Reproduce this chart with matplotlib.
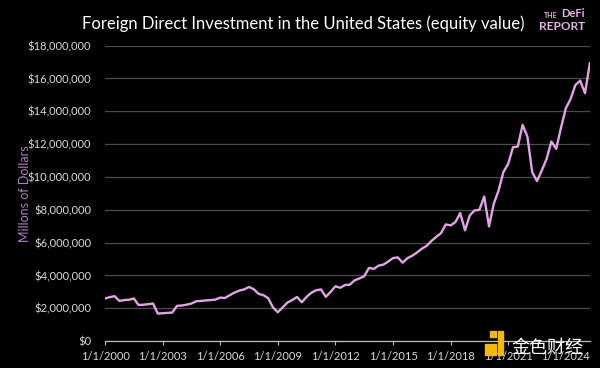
import numpy as np
import matplotlib
matplotlib.use("Agg")
import matplotlib.pyplot as plt
from matplotlib.patches import Rectangle
from matplotlib.ticker import FuncFormatter

# Quarterly FDI equity value (millions of dollars, in units of 1e6), 2000Q1 - 2025Q2
start_year = 2000
fdi_values = [
    2.60, 2.68, 2.74, 2.45, 2.50, 2.52, 2.60, 2.20, 2.22, 2.25,
    2.29, 1.68, 1.70, 1.72, 1.74, 2.15, 2.17, 2.22, 2.29, 2.43,
    2.45, 2.48, 2.50, 2.53, 2.65, 2.63, 2.80, 2.96, 3.08, 3.15,
    3.30, 3.16, 2.88, 2.80, 2.62, 2.05, 1.76, 2.05, 2.35, 2.50,
    2.69, 2.37, 2.70, 2.95, 3.10, 3.15, 2.70, 3.00, 3.34, 3.25,
    3.42, 3.44, 3.70, 3.82, 3.95, 4.46, 4.40, 4.60, 4.66, 4.85,
    5.06, 5.10, 4.78, 5.05, 5.20, 5.40, 5.63, 5.80, 6.10, 6.35,
    6.58, 7.11, 7.05, 7.25, 7.80, 6.75, 7.66, 7.96, 8.00, 8.81,
    6.99, 8.37, 9.18, 10.30, 10.80, 11.81, 11.85, 13.17, 12.46, 10.29,
    9.75, 10.40, 11.10, 12.16, 11.71, 13.00, 14.18, 14.75, 15.60, 15.87,
    15.10, 16.92,
]
tick_years = [2000, 2003, 2006, 2009, 2012, 2015, 2018, 2021, 2024]
tick_labels = ["1/1/%d" % y for y in tick_years]

x = start_year + np.arange(len(fdi_values)) / 4.0
y = np.array(fdi_values) * 1e6

plt.rcParams["font.family"] = ["Lato", "DejaVu Sans"]

fig = plt.figure(figsize=(6, 3.68), dpi=100, facecolor="black")
ax = fig.add_axes([0.175, 0.073, 0.808, 0.803], facecolor="black")

ax.plot(x, y, color="#E3A3E6", linewidth=1.7, solid_joinstyle="round")

ax.set_xlim(x[0], x[-1])
ax.set_ylim(0, 18e6)
ax.set_yticks(np.arange(0, 18e6 + 1, 2e6))
ax.yaxis.set_major_formatter(FuncFormatter(lambda v, p: "${:,.0f}".format(v)))
ax.set_xticks(tick_years)
ax.set_xticklabels(tick_labels)

ax.grid(axis="y", color="#4a4a4a", linewidth=0.9)
ax.set_axisbelow(True)
for s in ["top", "right", "left"]:
    ax.spines[s].set_visible(False)
ax.spines["bottom"].set_color("#bfbfbf")
ax.spines["bottom"].set_linewidth(0.9)

ax.tick_params(axis="y", length=0, pad=10, labelsize=8, labelcolor="#d9d9d9")
ax.tick_params(axis="x", length=3, color="#bfbfbf", pad=4, labelsize=8, labelcolor="#d9d9d9")

ax.set_ylabel("Millons of Dollars", color="#B07FC0", fontsize=9)
ax.yaxis.set_label_coords(-0.152, 0.5)

fig.text(0.505, 0.935, "Foreign Direct Investment in the United States (equity value)",
         color="white", fontsize=12, ha="center", va="center")

# logo
fig.text(0.918, 0.958, "THE", color="#E6B3E6", fontsize=5, fontweight="bold",
         ha="center", va="center")
fig.text(0.955, 0.962, "DeFi", color="#E6B3E6", fontsize=8, fontweight="bold",
         ha="center", va="center")
fig.text(0.937, 0.928, "REPORT", color="#E6B3E6", fontsize=8.5, fontweight="bold",
         ha="center", va="center")

# watermark
fig.patches.append(Rectangle((0.808, 0.035), 0.018, 0.03, transform=fig.transFigure,
                             color="#F0B90B"))
fig.patches.append(Rectangle((0.816, 0.085), 0.01, 0.015, transform=fig.transFigure,
                             color="#F0B90B"))
fig.patches.append(Rectangle((0.830, 0.035), 0.008, 0.065, transform=fig.transFigure,
                             color="#F0B90B"))
fig.text(0.852, 0.055, "金色财经", color="white", fontsize=13,
         family=["Noto Sans CJK SC", "DejaVu Sans"], ha="left", va="center")

fig.savefig("out.png", dpi=100, facecolor="black")
